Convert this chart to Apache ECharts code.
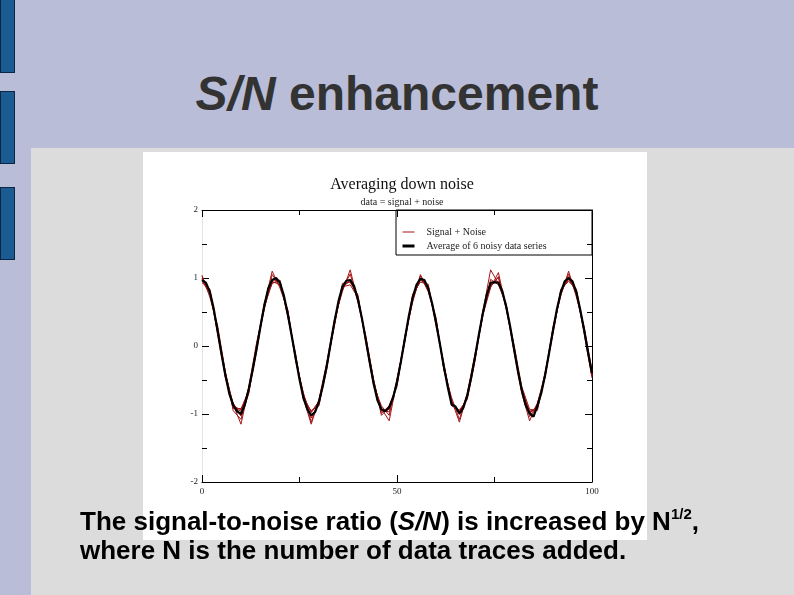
<!DOCTYPE html>
<html>
<head>
<meta charset="utf-8">
<script src="https://cdn.jsdelivr.net/npm/echarts@6/dist/echarts.min.js"></script>
<style>
  body { margin: 0; }
  #slide { position: relative; width: 794px; height: 595px; background: #b9bdd8; overflow: hidden; }
  .bar { position: absolute; left: 0; width: 13px; background: #1a5b91; border: 1px solid #0b2545; }
  #panel { position: absolute; left: 31px; top: 148px; right: 0; bottom: 0; background: #dcdcdc; }
  #heading {
    position: absolute; left: 0; top: 70px; width: 794px; margin: 0; text-align: center;
    font-family: "Liberation Sans", Arial, sans-serif;
    font-weight: bold; font-size: 48px; line-height: 48px; color: #333;
  }
  #chart { position: absolute; left: 143px; top: 152px; width: 504px; height: 388px; background: #fff; }
  #note {
    position: absolute; left: 80px; top: 507px; margin: 0; z-index: 2;
    font-family: "Liberation Sans", Arial, sans-serif;
    font-weight: bold; font-size: 26px; line-height: 29px; color: #000;
  }
  #note sup { font-size: 15px; line-height: 0; vertical-align: 11px; }
</style>
</head>
<body>
<div id="slide">
  <div class="bar" style="top:-1px;height:72px"></div>
  <div class="bar" style="top:91px;height:71px"></div>
  <div class="bar" style="top:187px;height:71px"></div>
  <div id="panel"></div>
  <h1 id="heading"><i>S/N</i> enhancement</h1>
  <div id="chart"></div>
  <p id="note">The signal-to-noise ratio (<i>S/N</i>) is increased by N<sup>1/2</sup>,<br>where N is the number of data traces added.</p>
</div>

<script>
// averaged trace, one point per x unit
const avgX = [
  0, 1, 2, 3, 4, 5, 6, 7, 8, 9, 10, 11, 12, 13, 14, 15, 16, 17, 18, 19,
  20, 21, 22, 23, 24, 25, 26, 27, 28, 29, 30, 31, 32, 33, 34, 35, 36, 37, 38, 39,
  40, 41, 42, 43, 44, 45, 46, 47, 48, 49, 50, 51, 52, 53, 54, 55, 56, 57, 58, 59,
  60, 61, 62, 63, 64, 65, 66, 67, 68, 69, 70, 71, 72, 73, 74, 75, 76, 77, 78, 79,
  80, 81, 82, 83, 84, 85, 86, 87, 88, 89, 90, 91, 92, 93, 94, 95, 96, 97, 98, 99,
  100
]
const avgY = [
  0.97, 0.93, 0.80, 0.55, 0.22, -0.12, -0.43, -0.70, -0.87, -0.96, -1.00, -0.86, -0.63, -0.35, -0.04, 0.29, 0.60, 0.85, 0.97, 1.00,
  0.93, 0.74, 0.47, 0.15, -0.17, -0.49, -0.76, -0.93, -1.02, -0.97, -0.82, -0.58, -0.29, 0.04, 0.37, 0.66, 0.87, 0.96, 0.97, 0.88,
  0.68, 0.41, 0.09, -0.24, -0.55, -0.80, -0.93, -0.96, -0.90, -0.76, -0.53, -0.23, 0.10, 0.43, 0.71, 0.90, 0.99, 0.97, 0.85, 0.63,
  0.35, 0.03, -0.30, -0.60, -0.86, -0.89, -0.99, -0.91, -0.73, -0.47, -0.16, 0.17, 0.48, 0.75, 0.93, 0.94, 0.93, 0.81, 0.58, 0.29,
  -0.04, -0.37, -0.65, -0.87, -0.99, -1.04, -0.88, -0.69, -0.42, -0.10, 0.23, 0.54, 0.79, 0.95, 1.00, 0.95, 0.79, 0.53, 0.23, -0.10,
  -0.40
]

// the 6 noisy traces
const noisyX = [
  0, 2, 4, 6, 8, 10, 12, 14, 16, 18,
  20, 22, 24, 26, 28, 30, 32, 34, 36, 38,
  40, 42, 44, 46, 48, 50, 52, 54, 56, 58,
  60, 62, 64, 66, 68, 70, 72, 74, 76, 78,
  80, 82, 84, 86, 88, 90, 92, 94, 96, 98,
  100
]
const noisy1 = [
  1.04, 0.72, 0.30, -0.38, -0.95, -1.08, -0.60, 0.05, 0.55, 1.05,
  0.88, 0.52, -0.22, -0.70, -1.12, -0.78, -0.24, 0.40, 0.80, 1.12,
  0.66, 0.15, -0.50, -1.02, -0.90, -0.60, 0.14, 0.64, 1.05, 0.82,
  0.42, -0.35, -0.76, -1.08, -0.70, -0.12, 0.44, 0.98, 0.90, 0.62,
  -0.08, -0.70, -1.10, -0.84, -0.46, 0.28, 0.74, 1.10, 0.72, 0.28,
  -0.36
]
const noisy2 = [
  0.93, 0.84, 0.18, -0.47, -0.84, -1.03, -0.70, 0.02, 0.64, 0.92,
  0.97, 0.42, -0.12, -0.80, -0.95, -0.88, -0.26, 0.31, 0.92, 0.94,
  0.75, 0.05, -0.58, -0.88, -1.02, -0.48, 0.06, 0.76, 0.94, 0.91,
  0.30, -0.25, -0.88, -0.94, -0.79, -0.22, 0.52, 0.87, 1.02, 0.54,
  0.02, -0.60, -0.93, -0.95, -0.38, 0.18, 0.84, 0.95, 0.84, 0.18,
  -0.47
]
const noisy3 = [
  0.98, 0.76, 0.27, -0.45, -0.92, -0.92, -0.68, -0.08, 0.62, 1.10,
  0.85, 0.53, -0.20, -0.69, -1.06, -0.85, -0.34, 0.39, 0.83, 1.06,
  0.64, 0.12, -0.49, -0.99, -0.88, -0.57, 0.08, 0.67, 1.03, 0.80,
  0.39, -0.33, -0.85, -0.96, -0.77, -0.20, 0.45, 0.86, 1.08, 0.56,
  -0.06, -0.62, -1.04, -0.85, -0.40, 0.26, 0.76, 1.06, 0.76, 0.21,
  -0.40
]
const noisy4 = [
  1.02, 0.80, 0.20, -0.40, -0.86, -1.15, -0.62, -0.01, 0.56, 0.98,
  0.94, 0.45, -0.14, -0.77, -1.15, -0.80, -0.28, 0.33, 0.88, 0.95,
  0.72, 0.08, -0.56, -0.92, -1.10, -0.51, 0.12, 0.72, 0.97, 0.88,
  0.34, -0.28, -0.80, -1.12, -0.72, -0.15, 0.50, 1.12, 0.92, 0.60,
  -0.01, -0.66, -0.96, -0.93, -0.44, 0.21, 0.80, 0.98, 0.81, 0.25,
  -0.44
]
const noisy5 = [
  0.96, 0.78, 0.25, -0.44, -0.90, -0.96, -0.66, -0.05, 0.60, 0.95,
  0.90, 0.50, -0.18, -0.73, -0.98, -0.83, -0.31, 0.37, 0.85, 0.98,
  0.69, 0.11, -0.52, -0.96, -0.93, -0.55, 0.09, 0.69, 1.00, 0.85,
  0.37, -0.31, -0.83, -0.99, -0.75, -0.18, 0.47, 0.91, 0.95, 0.58,
  -0.04, -0.64, -0.99, -0.88, -0.43, 0.22, 0.78, 1.02, 0.78, 0.22,
  -0.43
]
const noisy6 = [
  1.00, 0.81, 0.22, -0.39, -0.88, -0.94, -0.64, -0.02, 0.58, 0.93,
  0.95, 0.47, -0.16, -0.75, -0.97, -0.81, -0.29, 0.35, 0.87, 0.90,
  0.71, 0.09, -0.53, -0.94, -0.97, -0.53, 0.11, 0.71, 0.98, 0.87,
  0.36, -0.29, -0.81, -1.01, -0.73, -0.16, 0.49, 0.89, 1.01, 0.57,
  -0.02, -0.67, -0.97, -0.90, -0.42, 0.24, 0.80, 0.99, 0.80, 0.24,
  -0.41
]
const noisyTraces = [noisy1, noisy2, noisy3, noisy4, noisy5, noisy6]

const noisyName = 'Signal + Noise'
const avgName = 'Average of 6 noisy data series'

const serif = 'Liberation Serif'
const red = '#a31414'

function pairs(xs, ys) {
  return ys.map((y, i) => [xs[i], y])
}

function axisBase(lineColor) {
  return {
    type: 'value',
    axisLine: { show: true, onZero: false, lineStyle: { color: lineColor, width: 1 } },
    axisTick: { show: true, inside: true, length: 7, lineStyle: { color: '#000' } },
    minorTick: { show: true, splitNumber: 2, length: 5, lineStyle: { color: '#000' } },
    splitLine: { show: false },
    minorSplitLine: { show: false }
  }
}

const chart = echarts.init(document.getElementById('chart'))

const series = noisyTraces.map(t => ({
  name: noisyName,
  type: 'line',
  data: pairs(noisyX, t),
  symbol: 'none',
  silent: true,
  lineStyle: { color: red, width: 1 },
  itemStyle: { color: red }
}))
series.push({
  name: avgName,
  type: 'line',
  data: pairs(avgX, avgY),
  symbol: 'none',
  silent: true,
  z: 5,
  lineStyle: { color: '#000', width: 2.2 },
  itemStyle: { color: '#000' }
})

const hiddenSymbol = { color: 'transparent', borderColor: 'transparent', borderWidth: 0, opacity: 0 }

chart.setOption({
  animation: false,
  title: [
    {
      text: 'Averaging down noise',
      left: 254, top: 20, textAlign: 'center',
      textStyle: { fontFamily: serif, fontSize: 16, fontWeight: 'normal', color: '#111' }
    },
    {
      text: 'data = signal + noise',
      left: 254, top: 40, textAlign: 'center',
      textStyle: { fontFamily: serif, fontSize: 10, fontWeight: 'normal', color: '#222' }
    }
  ],
  grid: { left: 59, top: 58, right: 55, bottom: 58 },
  legend: {
    orient: 'vertical',
    left: 258, top: 75,
    padding: 0,
    itemGap: 4,
    itemWidth: 12,
    itemHeight: 10,
    itemStyle: hiddenSymbol,
    textStyle: { fontFamily: serif, fontSize: 10, color: '#222', padding: [0, 0, 0, 7] },
    data: [
      { name: noisyName, itemStyle: hiddenSymbol, lineStyle: { width: 1, color: red } },
      { name: avgName, itemStyle: hiddenSymbol, lineStyle: { width: 3, color: '#000' } }
    ]
  },
  graphic: [{
    type: 'rect',
    shape: { x: 253, y: 58, width: 196, height: 45 },
    style: { fill: 'none', stroke: '#000', lineWidth: 1 },
    z: 10
  }],
  xAxis: [
    Object.assign(axisBase('#000'), {
      position: 'bottom', min: 0, max: 100, interval: 50,
      axisLabel: { fontFamily: serif, fontSize: 9, color: '#222', margin: 5 }
    }),
    Object.assign(axisBase('#000'), {
      position: 'top', min: 0, max: 100, interval: 50,
      axisLabel: { show: false }
    })
  ],
  yAxis: [
    Object.assign(axisBase('#e4e4e4'), {
      position: 'left', min: -2, max: 2, interval: 1,
      axisLabel: { fontFamily: serif, fontSize: 9, color: '#222', margin: 4 }
    }),
    Object.assign(axisBase('#000'), {
      position: 'right', min: -2, max: 2, interval: 1,
      axisLabel: { show: false }
    })
  ],
  series: series
})
</script>
</body>
</html>
